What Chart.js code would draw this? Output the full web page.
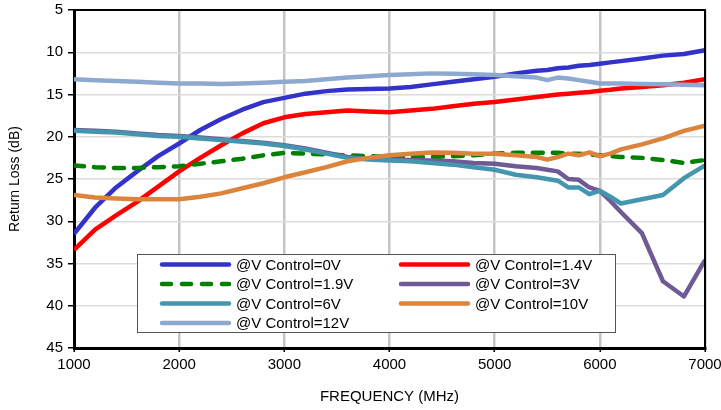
<!DOCTYPE html>
<html>
<head>
<meta charset="utf-8">
<script src="https://cdn.jsdelivr.net/npm/chart.js@4.4.0/dist/chart.umd.min.js"></script>
<style>
  body { margin: 0; background: #fff; }
  #wrap { width: 721px; height: 410px; }
</style>
</head>
<body>
<div id="wrap"><canvas id="myChart" width="721" height="410"></canvas></div>
<script>
// frequencies (MHz)
const freq = [1000, 1200, 1400, 1600, 1800, 2000, 2200, 2400, 2600, 2800, 3000, 3200, 3400, 3600, 3800, 4000,
    4200, 4400, 4600, 4800, 5000, 5200, 5400, 5500, 5600, 5700, 5800, 5900, 6000, 6100, 6200, 6400, 6600, 6800, 7000];

// return loss (dB) per control voltage
const rl0V   = [31.5, 28.4, 26.0, 24.1, 22.3, 20.8, 19.2, 17.9, 16.8, 15.9, 15.4, 14.9, 14.6, 14.4, 14.35, 14.3,
    14.1, 13.8, 13.5, 13.2, 12.9, 12.5, 12.2, 12.1, 11.9, 11.8, 11.6, 11.5, 11.35, 11.2, 11.05, 10.75, 10.4, 10.2, 9.75];
const rl1_4V = [33.4, 31.0, 29.3, 27.7, 25.9, 24.1, 22.5, 21.0, 19.6, 18.4, 17.7, 17.3, 17.1, 16.9, 17.0, 17.1,
    16.9, 16.7, 16.4, 16.1, 15.9, 15.6, 15.3, 15.15, 15.0, 14.9, 14.8, 14.7, 14.55, 14.45, 14.3, 14.1, 13.9, 13.6, 13.2];
const rl1_9V = [23.4, 23.6, 23.7, 23.7, 23.6, 23.5, 23.2, 22.9, 22.6, 22.2, 21.9, 22.0, 22.1, 22.2, 22.3, 22.4,
    22.4, 22.4, 22.3, 22.2, 22.0, 21.9, 21.9, 21.9, 21.9, 22.0, 22.0, 22.1, 22.2, 22.3, 22.4, 22.5, 22.75, 23.1, 22.75];
const rl3V   = [19.2, 19.3, 19.4, 19.6, 19.8, 19.9, 20.1, 20.3, 20.5, 20.7, 21.0, 21.4, 21.9, 22.4, 22.6, 22.7,
    22.75, 22.8, 22.9, 23.1, 23.2, 23.5, 23.7, 23.9, 24.1, 25.0, 25.1, 26.0, 26.4, 27.6, 28.9, 31.4, 37.1, 38.9, 34.6];
const rl6V   = [19.3, 19.4, 19.5, 19.7, 19.9, 20.0, 20.2, 20.4, 20.6, 20.8, 21.1, 21.5, 22.0, 22.5, 22.7, 22.8,
    22.9, 23.1, 23.3, 23.6, 23.9, 24.5, 24.8, 25.0, 25.2, 26.0, 26.0, 26.8, 26.4, 27.1, 27.9, 27.4, 26.9, 24.9, 23.4];
const rl10V  = [26.9, 27.2, 27.3, 27.4, 27.4, 27.4, 27.1, 26.7, 26.1, 25.5, 24.8, 24.2, 23.6, 22.9, 22.5, 22.2,
    22.0, 21.85, 21.9, 22.0, 22.0, 22.2, 22.4, 22.7, 22.4, 22.0, 22.2, 21.85, 22.3, 22.0, 21.5, 20.9, 20.2, 19.3, 18.7];
const rl12V  = [13.2, 13.3, 13.4, 13.5, 13.6, 13.7, 13.7, 13.75, 13.7, 13.6, 13.5, 13.4, 13.2, 13.0, 12.85, 12.7,
    12.6, 12.5, 12.55, 12.6, 12.7, 12.85, 13.0, 13.3, 13.0, 13.1, 13.3, 13.5, 13.7, 13.7, 13.7, 13.75, 13.8, 13.85, 13.9];

const labels = ['@V Control=0V', '@V Control=1.4V', '@V Control=1.9V', '@V Control=3V',
    '@V Control=6V', '@V Control=10V', '@V Control=12V'];
const series = [rl0V, rl1_4V, rl1_9V, rl3V, rl6V, rl10V, rl12V];
const colors = ['#3333cc', '#ff0000', '#008000', '#705a95', '#4396ae', '#dd843c', '#8ea9d0'];

const xTicks = [1000, 2000, 3000, 4000, 5000, 6000, 7000];
const yTicks = [5, 10, 15, 20, 25, 30, 35, 40, 45];

const FONT = "'Liberation Sans', Arial, sans-serif";

const datasets = series.map((vals, i) => ({
    label: labels[i],
    data: vals.map((v, k) => ({ x: freq[k], y: v })),
    borderColor: colors[i],
    backgroundColor: colors[i],
    borderWidth: 4.5,
    borderDash: i === 2 ? [10, 10] : [],
    borderCapStyle: i === 2 ? 'round' : 'butt',
    borderJoinStyle: 'round',
    pointRadius: 0,
    tension: 0,
    order: series.length - i   // later series drawn on top, like the original
}));

// frame on top / right
const framePlugin = {
    id: 'frame',
    afterDatasetsDraw(chart) {
        const ctx = chart.ctx;
        const a = chart.chartArea;
        ctx.save();
        ctx.strokeStyle = '#000';
        ctx.lineWidth = 2;
        ctx.beginPath();
        ctx.moveTo(a.left, a.top);
        ctx.lineTo(a.right, a.top);
        ctx.lineTo(a.right, a.bottom);
        ctx.stroke();
        ctx.restore();
    }
};

// legend box inside the plot, two columns
const legendPlugin = {
    id: 'boxLegend',
    afterDraw(chart) {
        const ctx = chart.ctx;
        const bx = 137, by = 254, bw = 478, bh = 78;
        ctx.save();
        ctx.fillStyle = '#fff';
        ctx.fillRect(bx, by, bw, bh);
        ctx.strokeStyle = '#555';
        ctx.lineWidth = 1;
        ctx.strokeRect(bx + 0.5, by + 0.5, bw, bh);
        ctx.font = '15px ' + FONT;
        ctx.textBaseline = 'middle';
        chart.data.datasets.forEach((ds, i) => {
            const col = i % 2, row = Math.floor(i / 2);
            const x1 = col === 0 ? 162 : 401;
            const y = 264.5 + row * 19.5;
            ctx.strokeStyle = ds.borderColor;
            ctx.lineWidth = 4.5;
            ctx.lineCap = 'round';
            ctx.setLineDash(ds.borderDash.length ? [9, 11] : []);
            ctx.beginPath();
            ctx.moveTo(x1, y);
            ctx.lineTo(x1 + 67, y);
            ctx.stroke();
            ctx.setLineDash([]);
            ctx.fillStyle = '#000';
            ctx.fillText(ds.label, x1 + 74, y + 1);
        });
        ctx.restore();
    }
};

const ctx = document.getElementById('myChart').getContext('2d');
new Chart(ctx, {
    type: 'line',
    data: { datasets: datasets },
    options: {
        responsive: false,
        animation: false,
        layout: { padding: { top: 10, right: 16, left: 0, bottom: 0 } },
        plugins: {
            legend: { display: false },
            tooltip: { enabled: false }
        },
        scales: {
            x: {
                type: 'linear',
                min: 1000,
                max: 7000,
                afterBuildTicks: s => { s.ticks = xTicks.map(v => ({ value: v })); },
                afterFit: s => { s.height = 62; s.paddingLeft = 0; s.paddingRight = 0; },
                ticks: { color: '#000', font: { family: FONT, size: 15 }, padding: 4, maxRotation: 0, callback: v => String(v) },
                grid: { color: '#c4c4c4', lineWidth: 2.5, drawTicks: true, tickLength: 4, tickColor: '#000', tickWidth: 1.5 },
                border: { color: '#000', width: 3 },
                title: { display: true, text: 'FREQUENCY (MHz)', color: '#000', font: { family: FONT, size: 15 }, padding: { top: 0, bottom: 4 } }
            },
            y: {
                type: 'linear',
                reverse: true,
                min: 5,
                max: 45,
                afterBuildTicks: s => { s.ticks = yTicks.map(v => ({ value: v })); },
                afterFit: s => { s.width = 74; s.paddingTop = 0; s.paddingBottom = 0; },
                ticks: { color: '#000', font: { family: FONT, size: 15 }, padding: 5 },
                grid: { color: '#dcdcdc', lineWidth: 1.5, drawTicks: true, tickLength: 6, tickColor: '#000', tickWidth: 1.5 },
                border: { color: '#000', width: 3 },
                title: { display: true, text: 'Return Loss (dB)', color: '#000', font: { family: FONT, size: 14 }, padding: { top: 7, bottom: 0 } }
            }
        }
    },
    plugins: [framePlugin, legendPlugin]
});
</script>
</body>
</html>
